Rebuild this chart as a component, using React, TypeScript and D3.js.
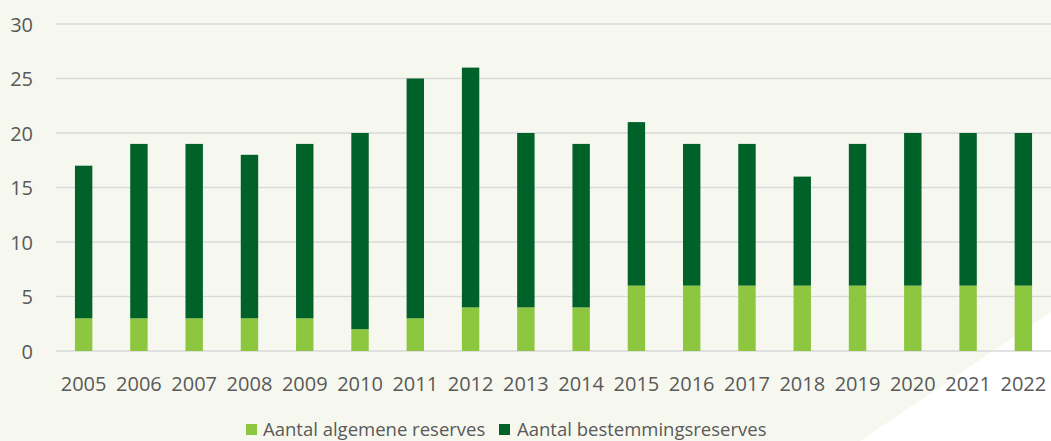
import React from 'react';
import * as d3 from 'd3';

const years = ['2005', '2006', '2007', '2008', '2009', '2010', '2011', '2012', '2013', '2014', '2015', '2016', '2017', '2018', '2019', '2020', '2021', '2022'];
const algemene = [3, 3, 3, 3, 3, 2, 3, 4, 4, 4, 6, 6, 6, 6, 6, 6, 6, 6];
const bestemmings = [14, 16, 16, 15, 16, 18, 22, 22, 16, 15, 15, 13, 13, 10, 13, 14, 14, 14];
const yTicks = [0, 5, 10, 15, 20, 25, 30];
const seriesNames = ['Aantal algemene reserves', 'Aantal bestemmingsreserves'];
const seriesColors = ['#8dc63f', '#006129'];

const width = 1051;
const height = 441;
const MARGIN = { top: 24, right: 0, bottom: 90, left: 56 };
const FONT = '"Open Sans", sans-serif';

const App = () => {
  const x = d3.scaleBand().domain(years).range([MARGIN.left, width - MARGIN.right]).paddingInner(0.685).paddingOuter(0.3425);
  const y = d3.scaleLinear().domain([0, 30]).range([height - MARGIN.bottom, MARGIN.top]);

  const table = years.map((yr, i) => ({ year: yr, a: algemene[i], b: bestemmings[i] }));
  const stacked = d3.stack<any>().keys(['a', 'b'])(table);

  return (
    <svg width={width} height={height} style={{ position: 'absolute', left: 0, top: 0, display: 'block' }}>
      <rect x={0} y={0} width={width} height={height} fill="#f6f8ef" />
      <polygon points={`${width},312 ${width},${height} 860,${height}`} fill="#ffffff" />
      {yTicks.map((t) => (
        <g key={t}>
          <line x1={MARGIN.left} x2={width} y1={y(t)} y2={y(t)} stroke="#d9d9d9" strokeWidth={1.3} />
          <text x={33} y={y(t)} textAnchor="end" dominantBaseline="central" fontSize={20} fontFamily={FONT} fill="#595959">{t}</text>
        </g>
      ))}
      {stacked.map((s, si) => (
        <g key={si}>
          {s.map((d, i) => (
            <rect key={i} x={x(years[i])} y={y(d[1])} width={x.bandwidth()} height={y(d[0]) - y(d[1])} fill={seriesColors[si]} />
          ))}
        </g>
      ))}
      {years.map((yr) => (
        <text key={yr} x={(x(yr) ?? 0) + x.bandwidth() / 2} y={383} textAnchor="middle" dominantBaseline="central" fontSize={20} fontFamily={FONT} fill="#595959">{yr}</text>
      ))}
      <g>
        <rect x={246} y={424} width={11} height={11} fill={seriesColors[0]} />
        <text x={263} y={436} fontSize={18.5} fontFamily={FONT} fill="#595959">{seriesNames[0]}</text>
        <rect x={499} y={424} width={11} height={11} fill={seriesColors[1]} />
        <text x={517} y={436} fontSize={18.5} fontFamily={FONT} fill="#595959">{seriesNames[1]}</text>
      </g>
    </svg>
  );
};

export default App;
